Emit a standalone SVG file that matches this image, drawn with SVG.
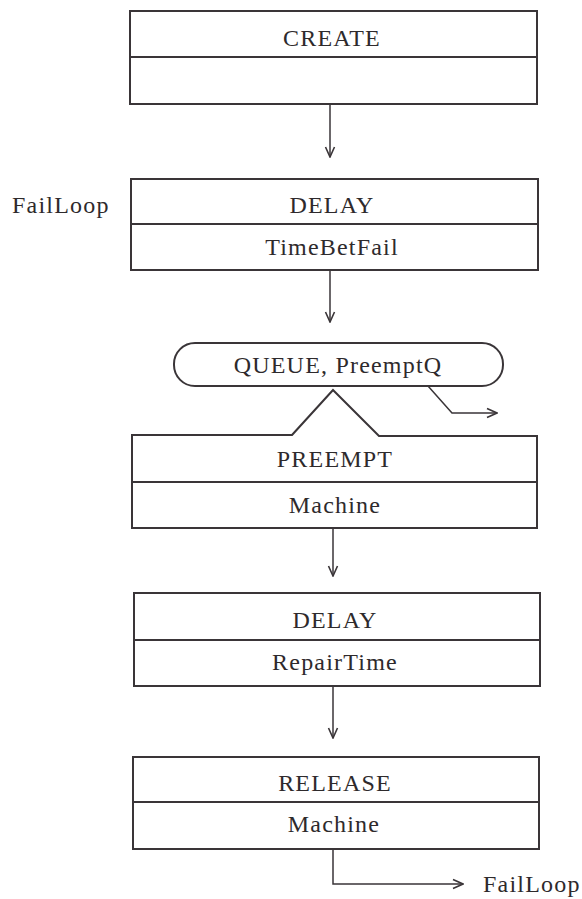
<svg xmlns="http://www.w3.org/2000/svg" width="582" height="899" viewBox="0 0 582 899">
  <style>
    .box { fill: none; stroke: #3a3538; stroke-width: 2; }
    .conn { fill: none; stroke: #3a3538; stroke-width: 1.5; }
    .lbl { font-family: "Liberation Serif", "Times New Roman", serif; font-size: 24px; letter-spacing: 1.2px; fill: #2e2a2c; text-anchor: middle; }
    .side { text-anchor: start; }
  </style>
  <defs>
    <marker id="vhead" viewBox="0 0 12 12" refX="11" refY="6" markerWidth="12" markerHeight="12" markerUnits="userSpaceOnUse" orient="auto">
      <path d="M1,1.5 L11,6 L1,10.5" fill="none" stroke="#3a3538" stroke-width="1.6"/>
    </marker>
  </defs>

  <rect width="582" height="899" fill="#ffffff"/>

  <!-- connectors -->
  <g id="connectors">
    <path class="conn" d="M330,104 V157" marker-end="url(#vhead)"/>
    <path class="conn" d="M330,270 V322" marker-end="url(#vhead)"/>
    <path class="conn" d="M428,386 L452,413 H497" marker-end="url(#vhead)"/>
    <path class="conn" d="M333,528 V576" marker-end="url(#vhead)"/>
    <path class="conn" d="M333,686 V738" marker-end="url(#vhead)"/>
    <path class="conn" d="M333,849 V884 H463" marker-end="url(#vhead)"/>
  </g>

  <!-- CREATE -->
  <g id="create">
    <rect class="box" x="130" y="11" width="407" height="93"/>
    <line class="box" x1="130" y1="57" x2="537" y2="57"/>
    <text class="lbl" x="332" y="46">CREATE</text>
  </g>

  <!-- label for the failure loop -->
  <g id="failloop-label">
    <text class="lbl side" x="12" y="213">FailLoop</text>
  </g>

  <!-- DELAY TimeBetFail -->
  <g id="delay-fail">
    <rect class="box" x="131" y="179" width="407" height="91"/>
    <line class="box" x1="131" y1="224" x2="538" y2="224"/>
    <text class="lbl" x="332" y="213">DELAY</text>
    <text class="lbl" x="332" y="255">TimeBetFail</text>
  </g>

  <!-- QUEUE PreemptQ -->
  <g id="queue">
    <rect class="box" x="174" y="343" width="329" height="43" rx="21" ry="21"/>
    <text class="lbl" x="338" y="373">QUEUE, PreemptQ</text>
  </g>

  <!-- PREEMPT Machine -->
  <g id="preempt">
    <path class="box" d="M292,435 L333,390 L379,436 H537 V528 H132 V435 Z"/>
    <line class="box" x1="132" y1="482" x2="537" y2="482"/>
    <text class="lbl" x="335" y="467">PREEMPT</text>
    <text class="lbl" x="335" y="513">Machine</text>
  </g>

  <!-- DELAY RepairTime -->
  <g id="delay-repair">
    <rect class="box" x="134" y="593" width="406" height="93"/>
    <line class="box" x1="134" y1="640" x2="540" y2="640"/>
    <text class="lbl" x="335" y="628">DELAY</text>
    <text class="lbl" x="335" y="670">RepairTime</text>
  </g>

  <!-- RELEASE Machine -->
  <g id="release">
    <rect class="box" x="133" y="757" width="406" height="92"/>
    <line class="box" x1="133" y1="802" x2="539" y2="802"/>
    <text class="lbl" x="335" y="791">RELEASE</text>
    <text class="lbl" x="334" y="832">Machine</text>
  </g>

  <g id="failloop-exit">
    <text class="lbl side" x="483" y="892">FailLoop</text>
  </g>
</svg>
